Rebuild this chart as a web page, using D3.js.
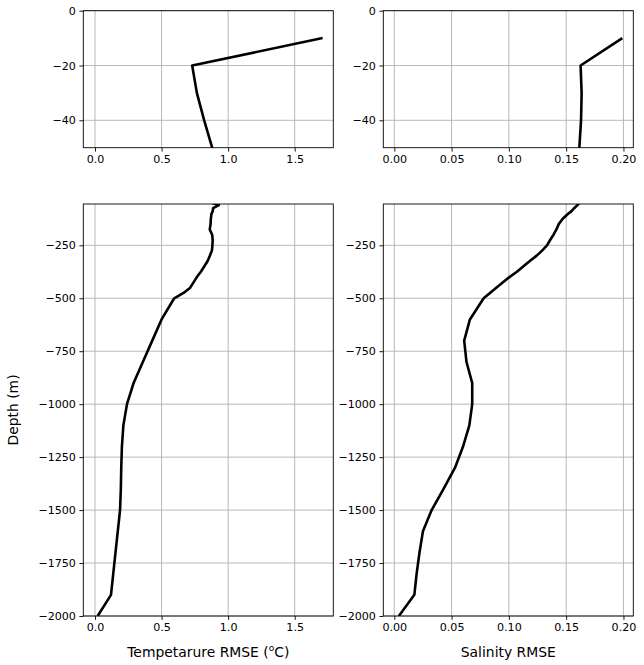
<!DOCTYPE html>
<html>
<head>
<meta charset="utf-8">
<script src="https://cdn.jsdelivr.net/npm/d3@7"></script>
<style>
  body { margin: 0; background: #fff; }
  svg text { font-family: "DejaVu Sans", sans-serif; }
</style>
</head>
<body>
<div id="chart"></div>
<script>
// depth levels (m, positive down) and the two RMSE profiles
var depths = [10, 20, 30, 40, 50, 60, 75, 90, 100, 125, 150, 175, 200, 225, 250, 275, 300,
  325, 350, 375, 400, 450, 475, 500, 600, 700, 800, 900, 1000, 1100, 1200, 1300, 1400, 1500,
  1600, 1700, 1800, 1900, 2000];
var tempRmse = [1.71, 0.73, 0.765, 0.82, 0.88, 0.93, 0.887, 0.884, 0.875, 0.87, 0.868, 0.862,
  0.88, 0.884, 0.882, 0.878, 0.862, 0.845, 0.82, 0.795, 0.765, 0.715, 0.665, 0.595, 0.50, 0.43,
  0.36, 0.29, 0.24, 0.213, 0.202, 0.197, 0.194, 0.188, 0.171, 0.154, 0.137, 0.12, 0.02];
var salRmse = [0.199, 0.1626, 0.1635, 0.163, 0.1615, 0.1598, 0.157, 0.1545, 0.152, 0.147,
  0.1435, 0.1415, 0.139, 0.136, 0.1333, 0.129, 0.124, 0.118, 0.1125, 0.107, 0.1005, 0.089,
  0.0835, 0.078, 0.066, 0.061, 0.063, 0.068, 0.068, 0.0655, 0.060, 0.053, 0.043, 0.0326, 0.025,
  0.022, 0.0195, 0.0175, 0.004];

var tempTicks = [0, 0.5, 1.0, 1.5];
var salTicks = [0, 0.05, 0.10, 0.15, 0.20];
var topDepthTicks = [0, -20, -40];
var bottomDepthTicks = [-250, -500, -750, -1000, -1250, -1500, -1750, -2000];

var svgWidth = 644;
var svgHeight = 665;
var fontSize = 11.1;
var labelSize = 13.9;
var tickLen = 3.9;

var svg = d3.select("#chart")
  .append("svg")
  .attr("width", svgWidth)
  .attr("height", svgHeight);

var cols = [{x0: 83.3, x1: 333.3}, {x0: 383.3, x1: 633.3}];
var rows = [{y0: 10.7, y1: 147.7}, {y0: 204, y1: 616}];

var tempX = d3.scaleLinear().domain([-0.088, 1.79]).range([cols[0].x0, cols[0].x1]);
var salX = d3.scaleLinear().domain([-0.0096, 0.2086]).range([cols[1].x0, cols[1].x1]);
var topY = d3.scaleLinear().domain([-50, 0]).range([rows[0].y1, rows[0].y0]);
var botY = d3.scaleLinear().domain([-2000, -55]).range([rows[1].y1, rows[1].y0]);

var panels = [
  {id: "p0", x: tempX, y: topY, vals: tempRmse, xt: tempTicks, yt: topDepthTicks, fmt: ".1f"},
  {id: "p1", x: salX, y: topY, vals: salRmse, xt: salTicks, yt: topDepthTicks, fmt: ".2f"},
  {id: "p2", x: tempX, y: botY, vals: tempRmse, xt: tempTicks, yt: bottomDepthTicks, fmt: ".1f"},
  {id: "p3", x: salX, y: botY, vals: salRmse, xt: salTicks, yt: bottomDepthTicks, fmt: ".2f"}
];

panels.forEach(function(p) {
  var xr = p.x.range(), yr = p.y.range();
  var g = svg.append("g");

  svg.append("clipPath").attr("id", "clip-" + p.id)
    .append("rect")
    .attr("x", xr[0]).attr("y", yr[1])
    .attr("width", xr[1] - xr[0]).attr("height", yr[0] - yr[1]);

  // grid
  g.selectAll(".gx").data(p.xt).enter().append("line")
    .attr("x1", d => p.x(d)).attr("x2", d => p.x(d))
    .attr("y1", yr[0]).attr("y2", yr[1])
    .attr("stroke", "#b0b0b0").attr("stroke-width", 0.9);
  g.selectAll(".gy").data(p.yt).enter().append("line")
    .attr("x1", xr[0]).attr("x2", xr[1])
    .attr("y1", d => p.y(d)).attr("y2", d => p.y(d))
    .attr("stroke", "#b0b0b0").attr("stroke-width", 0.9);

  // profile
  var line = d3.line()
    .x(d => p.x(d[0]))
    .y(d => p.y(-d[1]));
  g.append("path")
    .datum(p.vals.map((v, i) => [v, depths[i]]))
    .attr("clip-path", "url(#clip-" + p.id + ")")
    .attr("d", line)
    .attr("fill", "none")
    .attr("stroke", "black")
    .attr("stroke-width", 2.6)
    .attr("stroke-linejoin", "round");

  // axes
  var xAxis = d3.axisBottom(p.x).tickValues(p.xt).tickFormat(d3.format(p.fmt))
    .tickSizeOuter(0).tickSize(tickLen).tickPadding(3.5);
  var yAxis = d3.axisLeft(p.y).tickValues(p.yt).tickFormat(d3.format("d"))
    .tickSizeOuter(0).tickSize(tickLen).tickPadding(3.5);

  var gx = g.append("g").attr("transform", `translate(0, ${yr[0]})`).call(xAxis);
  var gy = g.append("g").attr("transform", `translate(${xr[0]}, 0)`).call(yAxis);
  [gx, gy].forEach(function(a) {
    a.select(".domain").remove();
    a.selectAll("line").attr("stroke", "black").attr("stroke-width", 0.9);
    a.selectAll("text").attr("font-size", fontSize).attr("fill", "black")
      .style("font-family", "'DejaVu Sans', sans-serif");
  });

  // frame
  g.append("rect")
    .attr("x", xr[0]).attr("y", yr[1])
    .attr("width", xr[1] - xr[0]).attr("height", yr[0] - yr[1])
    .attr("fill", "none").attr("stroke", "black").attr("stroke-width", 0.9);
});

// axis labels
var tl = svg.append("text")
  .attr("x", (cols[0].x0 + cols[0].x1) / 2)
  .attr("y", 657)
  .attr("text-anchor", "middle")
  .attr("font-size", labelSize);
tl.append("tspan").text("Tempetarure RMSE (");
tl.append("tspan").attr("font-size", 9).attr("dy", -6).text("o");
tl.append("tspan").attr("dy", 6).text("C)");

svg.append("text")
  .attr("x", (cols[1].x0 + cols[1].x1) / 2)
  .attr("y", 657)
  .attr("text-anchor", "middle")
  .attr("font-size", labelSize)
  .text("Salinity RMSE");

svg.append("text")
  .attr("transform", `translate(18, ${(rows[1].y0 + rows[1].y1) / 2}) rotate(-90)`)
  .attr("text-anchor", "middle")
  .attr("font-size", labelSize)
  .text("Depth (m)");
</script>
</body>
</html>
